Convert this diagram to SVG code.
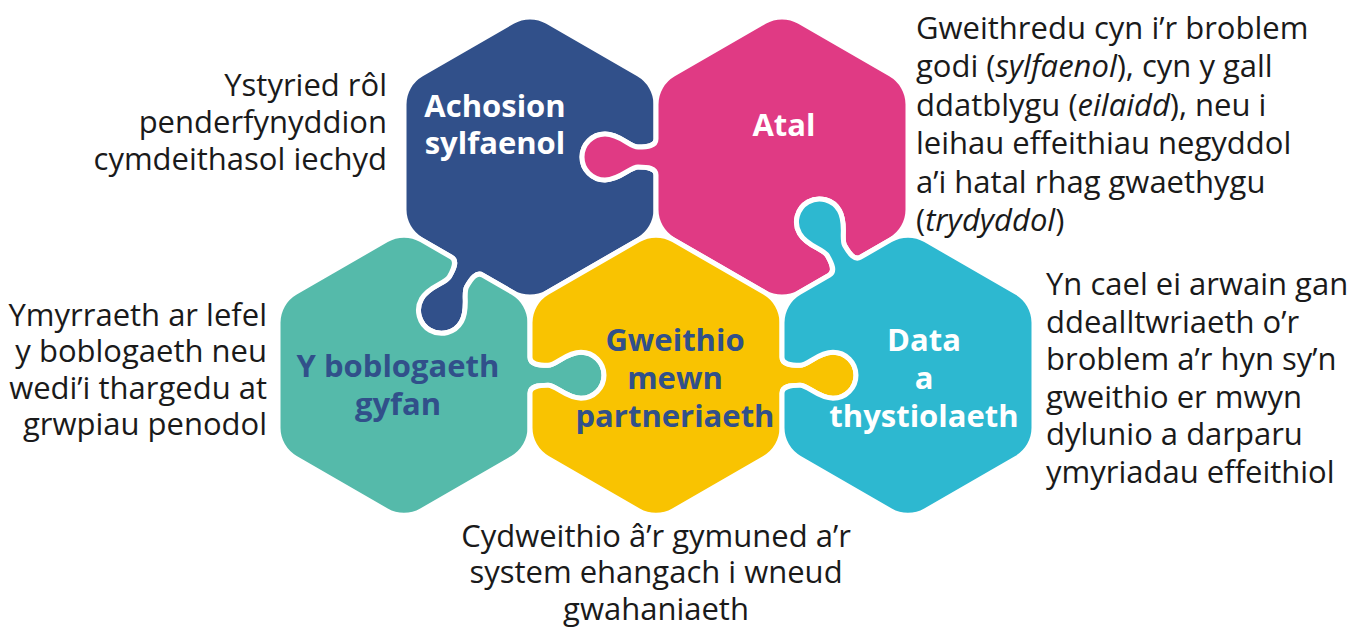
<svg xmlns="http://www.w3.org/2000/svg" width="1360" height="631" viewBox="0 0 1360 631">
<style>
.pc{stroke:#fff;stroke-width:5;stroke-linejoin:round}
.lbl{font-family:"Open Sans","Noto Sans","DejaVu Sans",sans-serif;font-weight:700;font-size:31px;text-anchor:middle}
.w{fill:#fff}
.n{fill:#31508A}
.body{font-family:"Open Sans","Noto Sans","DejaVu Sans",sans-serif;font-size:31px;fill:#1a1a1a}
.r{text-anchor:end}
.c{text-anchor:middle}
</style>
<rect width="1360" height="631" fill="#fff"/>
<g id="pieces">
<g id="achosion">
<path class="pc" fill="#31508A" d="M 512.5 21.6 A 35 35 0 0 1 547.5 21.6 L 638.5 74.15 A 35 35 0 0 1 656 104.46 L 656 139 C 656 146 648 147 638 147 C 630 147 620 134 605 134 A 23 23 0 0 0 582 157 A 23 23 0 0 0 605 180 C 620 180 630 167 638 167 C 648 167 656 168 656 175 L 656 209.54 A 35 35 0 0 1 638.5 239.85 L 547.5 292.4 A 35 35 0 0 1 512.5 292.4 L 482.59 275.13 C 476.53 271.63 471.66 278.05 466.66 286.71 C 462.66 293.64 468.92 308.8 461.42 321.79 A 23 23 0 0 1 430 330.21 A 23 23 0 0 1 421.58 298.79 C 429.08 285.8 445.34 283.64 449.34 276.71 C 454.34 268.05 457.47 260.63 451.41 257.13 L 421.5 239.85 A 35 35 0 0 1 404 209.54 L 404 104.46 A 35 35 0 0 1 421.5 74.15 Z"/>
<text class="lbl w" x="495" y="116.5">Achosion</text>
<text class="lbl w" x="495" y="153.5">sylfaenol</text>
</g>
<g id="atal">
<path class="pc" fill="#E03A84" d="M 764.5 21.6 A 35 35 0 0 1 799.5 21.6 L 890.5 74.15 A 35 35 0 0 1 908 104.46 L 908 209.54 A 35 35 0 0 1 890.5 239.85 L 860.59 257.13 C 854.53 260.63 849.66 254.2 844.66 245.54 C 840.66 238.61 846.92 223.45 839.42 210.46 A 23 23 0 0 0 808 202.04 A 23 23 0 0 0 799.58 233.46 C 807.08 246.45 823.34 248.61 827.34 255.54 C 832.34 264.2 835.47 271.63 829.41 275.13 L 799.5 292.4 A 35 35 0 0 1 764.5 292.4 L 673.5 239.85 A 35 35 0 0 1 656 209.54 L 656 175 C 656 168 648 167 638 167 C 630 167 620 180 605 180 A 23 23 0 0 1 582 157 A 23 23 0 0 1 605 134 C 620 134 630 147 638 147 C 648 147 656 146 656 139 L 656 104.46 A 35 35 0 0 1 673.5 74.15 Z"/>
<text class="lbl w" x="784" y="135.5">Atal</text>
</g>
<g id="y-boblogaeth">
<path class="pc" fill="#55BAAA" d="M 386.5 239.85 A 35 35 0 0 1 421.5 239.85 L 451.41 257.13 C 457.47 260.63 454.34 268.05 449.34 276.71 C 445.34 283.64 429.08 285.8 421.58 298.79 A 23 23 0 0 0 430 330.21 A 23 23 0 0 0 461.42 321.79 C 468.92 308.8 462.66 293.64 466.66 286.71 C 471.66 278.05 476.53 271.63 482.59 275.13 L 512.5 292.4 A 35 35 0 0 1 530 322.71 L 530 357.25 C 530 364.25 538 365.25 548 365.25 C 556 365.25 566 352.25 581 352.25 A 23 23 0 0 1 604 375.25 A 23 23 0 0 1 581 398.25 C 566 398.25 556 385.25 548 385.25 C 538 385.25 530 386.25 530 393.25 L 530 427.79 A 35 35 0 0 1 512.5 458.1 L 421.5 510.65 A 35 35 0 0 1 386.5 510.65 L 295.5 458.1 A 35 35 0 0 1 278 427.79 L 278 322.71 A 35 35 0 0 1 295.5 292.4 Z"/>
<text class="lbl n" x="398" y="377">Y boblogaeth</text>
<text class="lbl n" x="398" y="415">gyfan</text>
</g>
<g id="gweithio">
<path class="pc" fill="#F9C301" d="M 638.5 239.85 A 35 35 0 0 1 673.5 239.85 L 764.5 292.4 A 35 35 0 0 1 782 322.71 L 782 357.25 C 782 364.25 790 365.25 800 365.25 C 808 365.25 818 352.25 833 352.25 A 23 23 0 0 1 856 375.25 A 23 23 0 0 1 833 398.25 C 818 398.25 808 385.25 800 385.25 C 790 385.25 782 386.25 782 393.25 L 782 427.79 A 35 35 0 0 1 764.5 458.1 L 673.5 510.65 A 35 35 0 0 1 638.5 510.65 L 547.5 458.1 A 35 35 0 0 1 530 427.79 L 530 393.25 C 530 386.25 538 385.25 548 385.25 C 556 385.25 566 398.25 581 398.25 A 23 23 0 0 0 604 375.25 A 23 23 0 0 0 581 352.25 C 566 352.25 556 365.25 548 365.25 C 538 365.25 530 364.25 530 357.25 L 530 322.71 A 35 35 0 0 1 547.5 292.4 Z"/>
<text class="lbl n" x="675" y="350.5">Gweithio</text>
<text class="lbl n" x="675" y="388.5">mewn</text>
<text class="lbl n" x="675" y="426.5">partneriaeth</text>
</g>
<g id="data">
<path class="pc" fill="#2DB8D0" d="M 890.5 239.85 A 35 35 0 0 1 925.5 239.85 L 1016.5 292.4 A 35 35 0 0 1 1034 322.71 L 1034 427.79 A 35 35 0 0 1 1016.5 458.1 L 925.5 510.65 A 35 35 0 0 1 890.5 510.65 L 799.5 458.1 A 35 35 0 0 1 782 427.79 L 782 393.25 C 782 386.25 790 385.25 800 385.25 C 808 385.25 818 398.25 833 398.25 A 23 23 0 0 0 856 375.25 A 23 23 0 0 0 833 352.25 C 818 352.25 808 365.25 800 365.25 C 790 365.25 782 364.25 782 357.25 L 782 322.71 A 35 35 0 0 1 799.5 292.4 L 829.41 275.13 C 835.47 271.63 832.34 264.2 827.34 255.54 C 823.34 248.61 807.08 246.45 799.58 233.46 A 23 23 0 0 1 808 202.04 A 23 23 0 0 1 839.42 210.46 C 846.92 223.45 840.66 238.61 844.66 245.54 C 849.66 254.2 854.53 260.63 860.59 257.13 L 890.5 239.85 Z"/>
<text class="lbl w" x="924" y="350.5">Data</text>
<text class="lbl w" x="924" y="388.5">a</text>
<text class="lbl w" x="924" y="426.5">thystiolaeth</text>
</g>
</g>
<g id="connectors"/>
<g id="notes">
<g id="note-achosion">
<text class="body r" x="387" y="95.5">Ystyried rôl</text>
<text class="body r" x="387" y="132.5">penderfynyddion</text>
<text class="body r" x="387" y="169.5">cymdeithasol iechyd</text>
</g>
<g id="note-atal">
<text class="body" x="916" y="38.5">Gweithredu cyn i’r broblem</text>
<text class="body" x="916" y="77">godi (<tspan font-style="italic">sylfaenol</tspan>), cyn y gall</text>
<text class="body" x="916" y="115.5">ddatblygu (<tspan font-style="italic">eilaidd</tspan>), neu i</text>
<text class="body" x="916" y="154">leihau effeithiau negyddol</text>
<text class="body" x="916" y="192.5">a’i hatal rhag gwaethygu</text>
<text class="body" x="916" y="231">(<tspan font-style="italic">trydyddol</tspan>)</text>
</g>
<g id="note-boblogaeth">
<text class="body r" x="267" y="325.5">Ymyrraeth ar lefel</text>
<text class="body r" x="267" y="362">y boblogaeth neu</text>
<text class="body r" x="267" y="398.5">wedi’i thargedu at</text>
<text class="body r" x="267" y="435">grwpiau penodol</text>
</g>
<g id="note-data">
<text class="body" x="1046" y="295">Yn cael ei arwain gan</text>
<text class="body" x="1046" y="332.5">ddealltwriaeth o’r</text>
<text class="body" x="1046" y="370">broblem a’r hyn sy’n</text>
<text class="body" x="1046" y="407.5">gweithio er mwyn</text>
<text class="body" x="1046" y="445">dylunio a darparu</text>
<text class="body" x="1046" y="482.5">ymyriadau effeithiol</text>
</g>
<g id="note-gweithio">
<text class="body c" x="656" y="546.5">Cydweithio â’r gymuned a’r</text>
<text class="body c" x="656" y="583">system ehangach i wneud</text>
<text class="body c" x="656" y="619.5">gwahaniaeth</text>
</g>
</g>
</svg>
